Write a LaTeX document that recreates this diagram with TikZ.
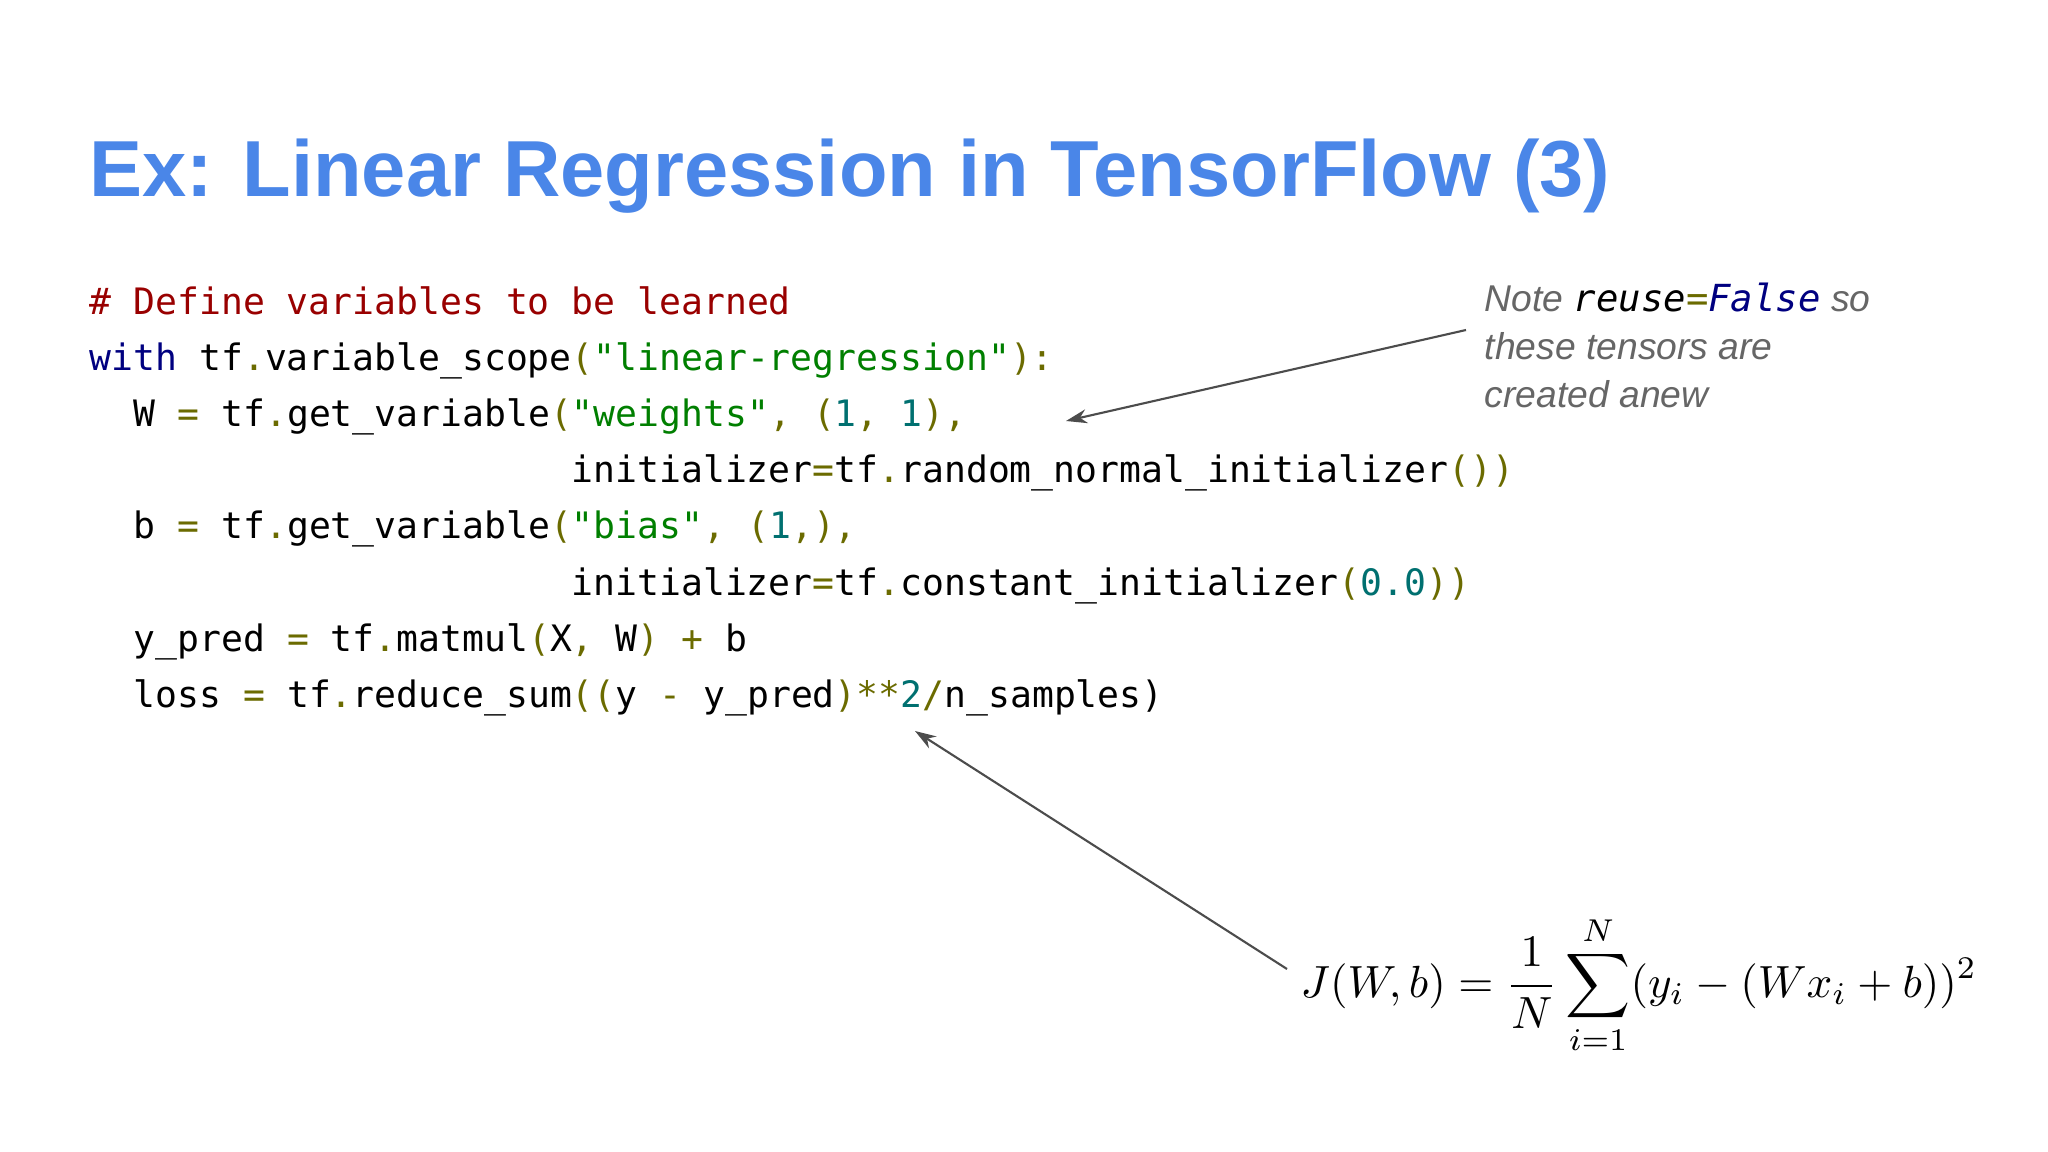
\documentclass[tikz,border=0pt]{standalone}
\usepackage{fontspec}
\usepackage{graphicx}
\setmainfont{Liberation Sans}
\setmonofont{DejaVu Sans Mono}
\usetikzlibrary{arrows.meta}
\definecolor{tblue}{HTML}{4A86E8}
\definecolor{cmt}{HTML}{990000}
\definecolor{kw}{HTML}{000080}
\definecolor{str}{HTML}{007F00}
\definecolor{num}{HTML}{007070}
\definecolor{pun}{HTML}{6B6B00}
\definecolor{notegray}{HTML}{666666}
\newcommand{\Pn}[1]{\textcolor{pun}{#1}}
\newcommand{\Sg}[1]{\textcolor{str}{#1}}
\newcommand{\Nm}[1]{\textcolor{num}{#1}}
\tikzset{
  codeline/.style={anchor=base west, inner sep=0pt, font=\fontsize{10.35}{12}\ttfamily},
  notetext/.style={anchor=base west, inner sep=0pt, font=\fontsize{10.6}{12}\itshape, text=notegray},
  pointer/.style={draw=black!70, line width=0.6pt, -{Stealth[length=6pt,width=4pt]}}
}
\begin{document}
\begin{tikzpicture}[x=0.01cm,y=-0.01cm]
\useasboundingbox[fill=white] (0,0) rectangle (2048,1152);
\node[anchor=base west, inner sep=0pt, font=\fontsize{22.6}{28}\bfseries, text=tblue] (title) at (89,197) {Ex: Linear Regression in TensorFlow (3)};
\node[codeline, text=cmt] (l1) at (89,315) {\# Define variables to be learned};
\node[codeline] (l2) at (89,371) {\textcolor{kw}{with} tf\Pn{.}variable\_scope\Pn{(}\Sg{"linear-regression"}\Pn{):}};
\node[codeline] (l3) at (133,427) {W \Pn{=} tf\Pn{.}get\_variable\Pn{(}\Sg{"weights"}\Pn{,} \Pn{(}\Nm{1}\Pn{,} \Nm{1}\Pn{),}};
\node[codeline] (l4) at (571,483) {initializer\Pn{=}tf\Pn{.}random\_normal\_initializer\Pn{())}};
\node[codeline] (l5) at (133,539) {b \Pn{=} tf\Pn{.}get\_variable\Pn{(}\Sg{"bias"}\Pn{,} \Pn{(}\Nm{1}\Pn{,),}};
\node[codeline] (l6) at (571,595) {initializer\Pn{=}tf\Pn{.}constant\_initializer\Pn{(}\Nm{0.0}\Pn{))}};
\node[codeline] (l7) at (133,651) {y\_pred \Pn{=} tf\Pn{.}matmul\Pn{(}X\Pn{,} W\Pn{)} \Pn{+} b};
\node[codeline] (l8) at (133,707) {loss \Pn{=} tf\Pn{.}reduce\_sum\Pn{((}y \Pn{-} y\_pred\Pn{)**}\Nm{2}\Pn{/}n\_samples)};
\node[notetext] (n1) at (1484,312) {Note \textcolor{black}{\ttfamily\itshape reuse}\textcolor{pun}{\ttfamily=}\textcolor{kw}{\ttfamily\itshape False} so};
\node[notetext] (n2) at (1484,360) {these tensors are};
\node[notetext] (n3) at (1484,408) {created anew};
\node[anchor=west, inner sep=0pt] (eq) at (1300,985)
  {\resizebox{6.76cm}{!}{$\displaystyle J(W,b)=\frac{1}{N}\sum_{i=1}^{N}(y_i-(Wx_i+b))^2$}};
\coordinate (a1s) at (1466,330);
\coordinate (a1e) at (1066,421);
\coordinate (a2s) at (1287,969);
\coordinate (a2e) at (915,731);
\draw[pointer] (a1s) -- (a1e);
\draw[pointer] (a2s) -- (a2e);
\end{tikzpicture}
\end{document}
